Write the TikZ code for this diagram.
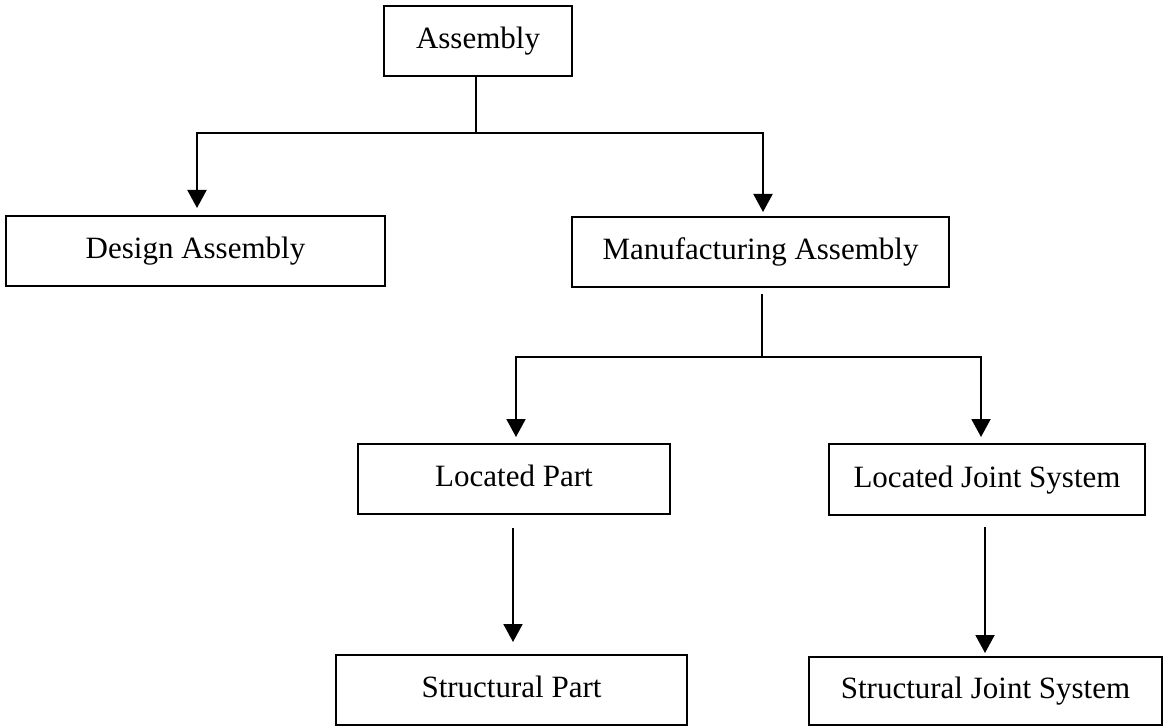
\documentclass[tikz,border=0pt]{standalone}
\usepackage{fontspec}
\setmainfont{Liberation Serif}
\usetikzlibrary{arrows.meta}
\begin{document}
\begin{tikzpicture}[x=1pt,y=-1pt,
  box/.style={draw,line width=2pt,inner sep=0pt,minimum height=70pt,
    text height=22pt,text depth=7pt,font=\fontsize{31}{37}\selectfont},
  link/.style={line width=2pt},
  arr/.style={link,-{Triangle[width=19pt,length=18pt]}}]
  % page frame
  \useasboundingbox (0,0) rectangle (1164,727);
  % boxes
  \node[box,minimum width=188pt] (asm) at (478,41) {Assembly};
  \node[box,minimum width=379pt] (des) at (195.5,251) {Design Assembly};
  \node[box,minimum width=377pt] (mfg) at (760.5,252) {Manufacturing Assembly};
  \node[box,minimum width=312pt] (lp)  at (514,479) {Located Part};
  \node[box,minimum width=316pt,minimum height=71pt] (ljs) at (987,479.5) {Located Joint System};
  \node[box,minimum width=351pt] (sp)  at (511.5,690) {Structural Part};
  \node[box,minimum width=353pt,minimum height=68pt] (sjs) at (985.5,691) {Structural Joint System};
  % branch points
  \coordinate (b1) at (476,133);
  \coordinate (b2) at (762,357);
  % Assembly -> Design / Manufacturing
  \draw[link] (asm.south -| b1) -- (b1);
  \draw[arr,shorten >=7pt] (b1) -| ([xshift=1.5pt]des.north);
  \draw[arr,shorten >=4pt] (b1) -| ([xshift=2.5pt]mfg.north);
  % Manufacturing -> Located Part / Located Joint System
  \draw[link,shorten <=6pt] (mfg.south -| b2) -- (b2);
  \draw[arr,shorten >=6pt] (b2) -| ([xshift=2pt]lp.north);
  \draw[arr,shorten >=6pt] (b2) -| ([xshift=-6pt]ljs.north);
  % Located -> Structural
  \draw[arr,shorten <=13pt,shorten >=12pt] ([xshift=-1pt]lp.south) -- ([xshift=-1pt]lp.south |- sp.north);
  \draw[arr,shorten <=11pt,shorten >=3pt] ([xshift=-2pt]ljs.south) -- ([xshift=-2pt]ljs.south |- sjs.north);
\end{tikzpicture}
\end{document}
